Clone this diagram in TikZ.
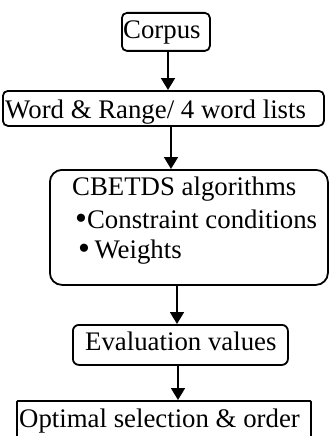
\documentclass[tikz,border=0pt]{standalone}
\usepackage{fontspec}
\setmainfont{Liberation Serif}
\usetikzlibrary{arrows.meta}
\begin{document}
\begin{tikzpicture}[x=1pt,y=-1pt,
  boxst/.style={draw=black, line width=1.8pt, inner sep=0pt, anchor=north west},
  txt/.style={anchor=base west, inner sep=0pt, font=\fontsize{26.8}{32}\selectfont},
  arr/.style={line width=1.8pt, -{Triangle[length=12pt,width=14pt]}}]
\useasboundingbox (0,0) rectangle (330,436);
\clip (0,0) rectangle (330,436);
\fill[white] (0,0) rectangle (330,436);
% boxes
\node[boxst, rounded corners=5pt, minimum width=88pt, minimum height=38pt] (corpus) at (121,12) {};
\node[boxst, rounded corners=5pt, minimum width=321pt, minimum height=35pt] (word) at (2,90) {};
\node[boxst, rounded corners=12pt, minimum width=278pt, minimum height=115pt] (cbet) at (49,169) {};
\node[boxst, rounded corners=6pt, minimum width=215pt, minimum height=40pt] (eval) at (72,324) {};
\node[boxst, rounded corners=1pt, minimum width=294pt, minimum height=60pt] (opt) at (16,400) {};
% texts
\node[txt] (tcorpus) at (123,39) {Corpus};
\node[txt] (tword) at (5,118) {Word \& Range/ 4 word lists};
\node[txt] (tcb) at (72,195) {CBETDS algorithms};
\node[txt] (tcon) at (75,228) {{\fontsize{34}{32}\selectfont\raisebox{-1.5pt}{\textbullet}}Constraint conditions};
\node[txt] (twei) at (78,258) {{\fontsize{34}{32}\selectfont\raisebox{-1.5pt}{\textbullet}}\,Weights};
\node[txt] (teval) at (85,350) {Evaluation values};
\node[txt] (topt) at (19,427) {Optimal selection \& order};
% arrow x positions
\coordinate (a1) at (168,0);
\coordinate (a2) at (171,0);
\coordinate (a3) at (177,0);
\coordinate (a4) at (178,0);
\draw[arr] (corpus.south -| a1) -- (word.north -| a1);
\draw[arr] (word.south -| a2) -- (cbet.north -| a2);
\draw[arr] (cbet.south -| a3) -- (eval.north -| a3);
\draw[arr] (eval.south -| a4) -- (opt.north -| a4);
\end{tikzpicture}
\end{document}
